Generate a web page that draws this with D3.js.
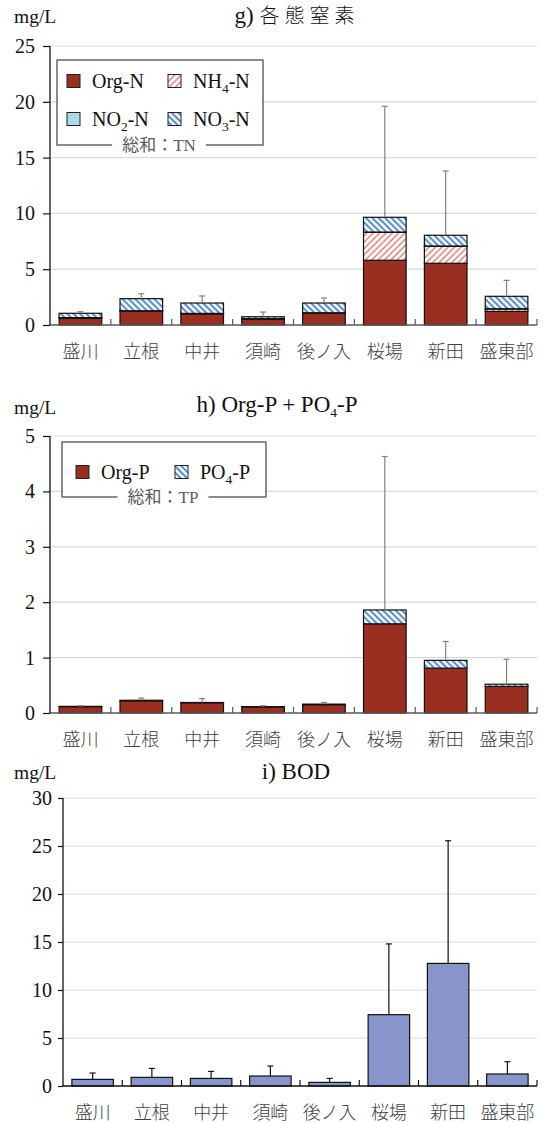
<!DOCTYPE html>
<html lang="ja">
  <head>
    <meta charset="UTF-8" />
    <title>各態窒素・リン・BOD</title>
    <script src="https://d3js.org/d3.v7.min.js"></script>
    <style>
      * {
        margin: 0;
        padding: 0;
      }
      body {
        background: #fff;
      }
      text {
        font-family: "Liberation Serif", "Noto Sans CJK JP", serif;
        fill: #111;
      }
      .cat {
        font-family: "Noto Sans CJK JP", sans-serif;
        font-size: 18px;
        font-weight: 300;
        fill: #404040;
      }
      .title {
        font-size: 23px;
      }
      .title .jp {
        font-family: "Noto Sans CJK JP", sans-serif;
        font-size: 20px;
        font-weight: 300;
        letter-spacing: 5px;
      }
      .unit {
        font-size: 19.5px;
      }
      .legend-text {
        font-size: 20px;
      }
      .legend-title {
        font-size: 17px;
        fill: #595959;
      }
    </style>
  </head>

  <body></body>

  <script>
    // 地点
    const sites = ["盛川", "立根", "中井", "須崎", "後ノ入", "桜場", "新田", "盛東部"];

    // g) 各態窒素 (mg/L)
    const orgN = [0.6, 1.25, 1.0, 0.54, 1.07, 5.8, 5.53, 1.22];
    const nh4N = [0.05, 0.02, 0.03, 0.02, 0.02, 2.5, 1.52, 0.22];
    const no2N = [0.01, 0.01, 0.01, 0.01, 0.01, 0.03, 0.03, 0.02];
    const no3N = [0.39, 1.08, 0.93, 0.17, 0.87, 1.32, 0.96, 1.11];
    const tnSd = [0.14, 0.44, 0.63, 0.42, 0.45, 9.95, 5.76, 1.43];

    // h) Org-P + PO4-P (mg/L)
    const orgP = [0.115, 0.22, 0.185, 0.11, 0.15, 1.61, 0.81, 0.48];
    const po4P = [0.005, 0.01, 0.005, 0.005, 0.01, 0.25, 0.14, 0.04];
    const tpSd = [0.01, 0.04, 0.07, 0.015, 0.03, 2.77, 0.34, 0.45];

    // i) BOD (mg/L)
    const bod = [0.69, 0.9, 0.79, 1.04, 0.38, 7.43, 12.77, 1.25];
    const bodSd = [0.66, 0.93, 0.73, 1.04, 0.41, 7.37, 12.78, 1.28];

    const yTicksN = [0, 5, 10, 15, 20, 25];
    const yTicksP = [0, 1, 2, 3, 4, 5];
    const yTicksB = [0, 5, 10, 15, 20, 25, 30];

    const w = 547;
    const h = 1123;

    let svg = d3.select("body").append("svg").attr("width", w).attr("height", h);

    // ハッチング
    let defs = svg.append("defs");
    function hatch(id, color, angle, sw) {
      let p = defs
        .append("pattern")
        .attr("id", id)
        .attr("patternUnits", "userSpaceOnUse")
        .attr("width", 4.5)
        .attr("height", 4.5)
        .attr("patternTransform", "rotate(" + angle + ")");
      p.append("rect").attr("width", 4.5).attr("height", 4.5).attr("fill", "#fff");
      p.append("line")
        .attr("x1", 1.2)
        .attr("x2", 1.2)
        .attr("y1", 0)
        .attr("y2", 4.5)
        .attr("stroke", color)
        .attr("stroke-width", sw);
    }
    hatch("hatchNH4", "#d8786a", 45, 1.4);
    hatch("hatchNO3", "#3d7cc6", -45, 1.8);

    const colOrg = "#9a2e21";
    const colNO2 = "#a6dde6";
    const colBOD = "#8795cb";

    // 下付き文字
    function sub(t, parts) {
      let down = false;
      parts.forEach((p) => {
        if (p.sub) {
          t.append("tspan").attr("dy", 5).style("font-size", "13.5px").text(p.sub);
          down = true;
        } else {
          let s = t.append("tspan").text(p.t);
          if (p.jp) s.attr("class", "jp");
          if (down) s.attr("dy", -5);
          down = false;
        }
      });
    }

    // パネル共通の描画
    function panel(opt) {
      let g = svg.append("g");
      let x = d3
        .scaleBand()
        .domain(sites)
        .range([opt.x0, opt.x1])
        .paddingInner(0.3)
        .paddingOuter(0.15);
      let y = d3.scaleLinear().domain([0, opt.max]).range([opt.yBase, opt.yTop]);

      // グリッド
      g.selectAll(".grid")
        .data(opt.ticks.slice(1))
        .enter()
        .append("line")
        .attr("x1", opt.x0)
        .attr("x2", opt.x1)
        .attr("y1", (d) => y(d))
        .attr("y2", (d) => y(d))
        .attr("stroke", "#d9d9d9")
        .attr("stroke-width", 1.2);

      // 積み上げ棒
      let stack = d3.stack().keys(opt.keys.map((k, i) => i));
      let rows = sites.map((s, j) => opt.keys.map((k) => k.values[j]));
      let series = stack(rows);
      series.forEach((ser, i) => {
        g.selectAll(".seg" + i)
          .data(ser)
          .enter()
          .append("rect")
          .attr("x", (d, j) => x(sites[j]))
          .attr("width", x.bandwidth())
          .attr("y", (d) => y(d[1]))
          .attr("height", (d) => y(d[0]) - y(d[1]))
          .attr("fill", opt.keys[i].fill)
          .attr("stroke", "#111")
          .attr("stroke-width", 1.2);
      });

      // 誤差棒
      let totals = rows.map((r) => d3.sum(r));
      let eb = g
        .selectAll(".err")
        .data(sites)
        .enter()
        .append("g")
        .attr("stroke", opt.errColor)
        .attr("stroke-width", 1.2);
      eb.append("line")
        .attr("x1", (d) => x(d) + x.bandwidth() / 2)
        .attr("x2", (d) => x(d) + x.bandwidth() / 2)
        .attr("y1", (d, j) => y(totals[j]))
        .attr("y2", (d, j) => y(totals[j] + opt.sd[j]));
      eb.append("line")
        .attr("x1", (d) => x(d) + x.bandwidth() / 2 - 3)
        .attr("x2", (d) => x(d) + x.bandwidth() / 2 + 3)
        .attr("y1", (d, j) => y(totals[j] + opt.sd[j]))
        .attr("y2", (d, j) => y(totals[j] + opt.sd[j]));

      // x軸
      g.append("line")
        .attr("x1", opt.x0)
        .attr("x2", opt.x1)
        .attr("y1", opt.yBase)
        .attr("y2", opt.yBase)
        .attr("stroke", opt.axisColor)
        .attr("stroke-width", 1.3);
      g.selectAll(".xtick")
        .data(sites)
        .enter()
        .append("line")
        .attr("x1", (d) => x(d) + x.step() * 0.85)
        .attr("x2", (d) => x(d) + x.step() * 0.85)
        .attr("y1", opt.yBase)
        .attr("y2", opt.yBase - 6)
        .attr("stroke", opt.axisColor)
        .attr("stroke-width", 1.2);
      g.selectAll(".cat")
        .data(sites)
        .enter()
        .append("text")
        .attr("class", "cat")
        .attr("x", (d) => x(d) + x.bandwidth() / 2)
        .attr("y", opt.yBase + 33)
        .attr("text-anchor", "middle")
        .text((d) => d);

      // y軸
      let ya = g
        .append("g")
        .attr("transform", "translate(" + opt.x0 + ",0)")
        .call(
          d3
            .axisLeft(y)
            .tickValues(opt.ticks)
            .tickFormat(d3.format("d"))
            .tickSize(opt.tick)
            .tickPadding(opt.pad)
        );
      ya.select(".domain")
        .attr("stroke", "#111")
        .attr("stroke-width", 1.3)
        .attr("d", "M0," + opt.yBase + "V" + opt.yTop);
      ya.selectAll(".tick line").attr("stroke", "#111").attr("stroke-width", 1.2);
      ya.selectAll(".tick text")
        .attr("fill", "#111")
        .style("font-family", "'Liberation Serif', serif")
        .style("font-size", "20px");

      // タイトル・単位
      g.append("text")
        .attr("class", "unit")
        .attr("x", 14)
        .attr("y", opt.unitY)
        .text("mg/L");
      g.append("text")
        .attr("class", "title")
        .attr("x", opt.titleX)
        .attr("y", opt.titleY)
        .attr("text-anchor", "middle")
        .call((t) => sub(t, opt.title));

      return { x, y };
    }

    // g) 各態窒素
    panel({
      x0: 50,
      x1: 537,
      yTop: 46,
      yBase: 325,
      max: 25,
      ticks: yTicksN,
      tick: 7,
      pad: 8,
      axisColor: "#5a5a5a",
      errColor: "#808080",
      sd: tnSd,
      unitY: 23,
      titleX: 297,
      titleY: 23,
      title: [{ t: "g) " }, { t: "各態窒素", jp: true }],
      keys: [
        { values: orgN, fill: colOrg },
        { values: nh4N, fill: "url(#hatchNH4)" },
        { values: no2N, fill: colNO2 },
        { values: no3N, fill: "url(#hatchNO3)" },
      ],
    });

    // h) Org-P + PO4-P
    panel({
      x0: 50,
      x1: 537,
      yTop: 436,
      yBase: 713,
      max: 5,
      ticks: yTicksP,
      tick: 7,
      pad: 8,
      axisColor: "#5a5a5a",
      errColor: "#808080",
      sd: tpSd,
      unitY: 414,
      titleX: 277,
      titleY: 412,
      title: [{ t: "h) Org-P + PO" }, { sub: "4" }, { t: "-P" }],
      keys: [
        { values: orgP, fill: colOrg },
        { values: po4P, fill: "url(#hatchNO3)" },
      ],
    });

    // i) BOD
    panel({
      x0: 63,
      x1: 537,
      yTop: 798,
      yBase: 1086,
      max: 30,
      ticks: yTicksB,
      tick: 5,
      pad: 6,
      axisColor: "#111",
      errColor: "#111",
      sd: bodSd,
      unitY: 779,
      titleX: 296,
      titleY: 779,
      title: [{ t: "i) BOD" }],
      keys: [{ values: bod, fill: colBOD }],
    });

    // 凡例
    function legend(box, items, title, titleX) {
      let g = svg.append("g");
      g.append("rect")
        .attr("x", box[0])
        .attr("y", box[1])
        .attr("width", box[2])
        .attr("height", box[3])
        .attr("fill", "#fff")
        .attr("stroke", "#404040")
        .attr("stroke-width", 1.2);
      items.forEach((it) => {
        g.append("rect")
          .attr("x", it.x)
          .attr("y", it.y - 6.5)
          .attr("width", 13)
          .attr("height", 13)
          .attr("fill", it.fill)
          .attr("stroke", "#222")
          .attr("stroke-width", 1);
        let t = g
          .append("text")
          .attr("class", "legend-text")
          .attr("x", it.x + 25)
          .attr("y", it.y + 7);
        sub(t, it.label);
      });
      let tt = g
        .append("text")
        .attr("class", "legend-title")
        .attr("x", titleX)
        .attr("y", box[1] + box[3] + 6)
        .attr("text-anchor", "middle")
        .text(title);
      let bb = tt.node().getBBox();
      g.insert("rect", ".legend-title")
        .attr("x", bb.x - 10)
        .attr("y", box[1] + box[3] - 3)
        .attr("width", bb.width + 20)
        .attr("height", 6)
        .attr("fill", "#fff");
    }

    legend(
      [57, 60, 206, 85],
      [
        { x: 67, y: 81, fill: colOrg, label: [{ t: "Org-N" }] },
        { x: 168, y: 81, fill: "url(#hatchNH4)", label: [{ t: "NH" }, { sub: "4" }, { t: "-N" }] },
        { x: 67, y: 119, fill: colNO2, label: [{ t: "NO" }, { sub: "2" }, { t: "-N" }] },
        { x: 168, y: 119, fill: "url(#hatchNO3)", label: [{ t: "NO" }, { sub: "3" }, { t: "-N" }] },
      ],
      "総和：TN",
      159
    );

    legend(
      [62, 442, 204, 55],
      [
        { x: 76, y: 472, fill: colOrg, label: [{ t: "Org-P" }] },
        { x: 175, y: 472, fill: "url(#hatchNO3)", label: [{ t: "PO" }, { sub: "4" }, { t: "-P" }] },
      ],
      "総和：TP",
      163
    );
  </script>
</html>
